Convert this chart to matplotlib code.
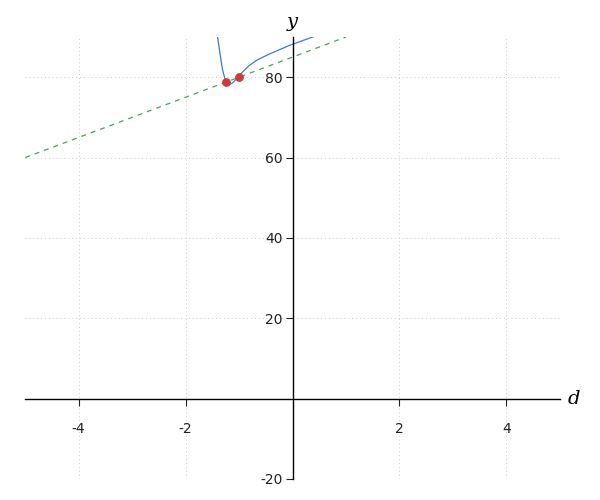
import numpy as np
import matplotlib.pyplot as plt

plt.rcParams['axes.unicode_minus'] = False

# blue curve
curve_x = [-1.40, -1.35, -1.31, -1.255, -1.19, -1.13, -1.035, -0.94, -0.82, -0.66, -0.41, -0.04, 0.40]
curve_y = [89.9, 85.3, 82.0, 79.1, 78.1, 78.5, 79.7, 81.2, 82.8, 84.3, 85.9, 88.0, 90.1]

# dashed line end points
line_x = [-5.0, 1.0]
line_y = [60.0, 90.0]

# red points
pts_x = [-1.25, -1.0]
pts_y = [78.75, 80.0]

xticks = [-4, -2, 2, 4]
yticks = [-20, 20, 40, 60, 80]

fig = plt.figure(figsize=(6, 5), dpi=100)
ax = fig.add_axes([0.042, 0.042, 0.891, 0.884])

ax.plot(curve_x, curve_y, color='#3d7cc9', lw=0.9)
ax.plot(line_x, line_y, color='#4aa35a', lw=0.9, ls=(0, (4, 4)))
ax.scatter(pts_x, pts_y, color='#cc3b3b', s=28, zorder=5)

ax.set_xlim(-5, 5)
ax.set_ylim(-20, 90)
ax.set_xticks(xticks)
ax.set_yticks(yticks)

# axes through the origin
ax.spines['left'].set_position(('data', 0))
ax.spines['bottom'].set_position(('data', 0))
ax.spines['right'].set_visible(False)
ax.spines['top'].set_visible(False)
for s in ('left', 'bottom'):
    ax.spines[s].set_linewidth(1.0)

ax.tick_params(axis='x', direction='out', length=5, pad=12, labelsize=10, colors='#222222')
ax.tick_params(axis='y', direction='out', length=5, pad=2, labelsize=10, colors='#222222')

ax.grid(True, ls=(0, (1, 3)), color='#cccccc', lw=0.7)

ax.text(5.15, 0, 'd', fontsize=14, fontstyle='italic', family='DejaVu Serif',
        ha='left', va='center')
ax.text(0, 91.5, 'y', fontsize=14, fontstyle='italic', family='DejaVu Serif',
        ha='center', va='bottom', clip_on=False)

fig.savefig('out.png', dpi=100)
